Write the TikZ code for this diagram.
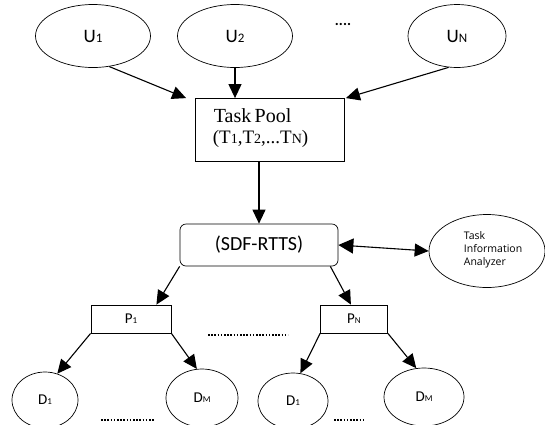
\documentclass[tikz,border=0pt]{standalone}
\usepackage{fontspec}
\setmainfont{Carlito}
\newfontfamily\serifx{Liberation Serif}
\newfontfamily\sansx{Open Sans}
\usetikzlibrary{shapes.geometric,arrows.meta}
\newcommand\subd[2]{{\fontsize{#1}{#1}\selectfont #2}}
\begin{document}
\begin{tikzpicture}[x=1pt,y=-1pt,
  line width=1.1pt,
  arr/.style={-{Triangle[length=14pt,width=13pt]}},
  darr/.style={{Triangle[length=15pt,width=15pt]}-{Triangle[length=14pt,width=13pt]}},
  uell/.style={draw,ellipse,inner sep=0pt,line width=0.7pt,font=\fontsize{19}{19}\selectfont},
  dell/.style={draw,ellipse,inner sep=0pt,line width=0.7pt,font=\fontsize{15}{15}\selectfont},
  pbox/.style={draw,rectangle,inner sep=0pt,line width=0.8pt,font=\fontsize{15}{15}\selectfont},
  dots/.style={line width=1.3pt,dash pattern=on 1.6pt off 1.6pt}
]
\useasboundingbox (0,0) rectangle (545,424);

% users
\node[uell,minimum width=115pt,minimum height=63pt] (u1) at (93,36) {U\subd{13}{1}};
\node[uell,minimum width=115pt,minimum height=63pt] (u2) at (235,36) {U\subd{13}{2}};
\node[font=\bfseries\fontsize{15}{15}\selectfont] (udots) at (343,24) {....};
\node[uell,minimum width=98pt,minimum height=63pt] (un) at (457,36) {U\subd{13}{N}};

% task pool
\node[draw,rectangle,line width=0.8pt,minimum width=149pt,minimum height=63pt,inner sep=0pt] (tp) at (270,130) {};
\node[font=\serifx\fontsize{20}{20}\selectfont,anchor=west] (tpt1) at (210,116) {Task\,Pool};
\node[font=\serifx\fontsize{19}{19}\selectfont,anchor=west] (tpt2) at (209,139) {(T\subd{14}{1},T\subd{14}{2},...T\subd{14}{N})};

% scheduler
\node[draw,rounded corners=6pt,line width=0.7pt,minimum width=158pt,minimum height=42pt,inner sep=0pt,font=\fontsize{20}{20}\selectfont] (sdf) at (259,245) {(SDF-RTTS)};

% analyzer
\node[draw,ellipse,line width=0.7pt,minimum width=116pt,minimum height=73pt,inner sep=0pt] (tia) at (487,251) {};
\node[font=\sansx\fontsize{10.5}{13}\selectfont,align=left,anchor=west] (tiat) at (460,250) {Task\\Information\\Analyzer};

% processors
\node[pbox,minimum width=80pt,minimum height=28pt] (p1) at (131,319) {P\subd{9}{1}};
\node[pbox,minimum width=67pt,minimum height=28pt] (pn) at (354,319) {P\subd{9}{N}};

% devices
\node[dell,minimum width=66pt,minimum height=56pt] (d11) at (45,400) {D\subd{9}{1}};
\node[dell,minimum width=72pt,minimum height=58pt] (d1m) at (202,398) {D\subd{9}{M}};
\node[dell,minimum width=70pt,minimum height=56pt] (d21) at (293,401) {D\subd{9}{1}};
\node[dell,minimum width=80pt,minimum height=58pt] (d2m) at (424,397) {D\subd{9}{M}};

% dotted separators
\coordinate (m1) at (208,335);
\coordinate (m2) at (288,335);
\coordinate (b1) at (101,420);
\coordinate (b2) at (154,420);
\coordinate (c1) at (334,420);
\coordinate (c2) at (363,420);
\draw[dots] (m1) -- (m2);
\draw[dots] (b1) -- (b2);
\draw[dots] (c1) -- (c2);

% connectors
\draw[arr] (u1.-62) -- ([xshift=-9pt]tp.north west);
\draw[arr] (u2.south) -- (u2.south |- tp.north);
\draw[arr] (un.-105) -- ([xshift=1pt]tp.north east);
\draw[arr] (sdf.north |- tp.south) -- (sdf.north);
\draw[darr] (sdf.east) -- (tia.west);
\draw[arr] (sdf.south west) -- ([xshift=-15pt]p1.north east);
\draw[arr] ([xshift=-8pt]sdf.south east) -- ([xshift=-37pt]pn.north east);
\draw[arr] (p1.south west) -- (d11.65);
\draw[arr] (p1.south east) -- (d1m.100);
\draw[arr] (pn.south west) -- (d21.75);
\draw[arr] (pn.south east) -- (d2m.105);
\end{tikzpicture}
\end{document}
